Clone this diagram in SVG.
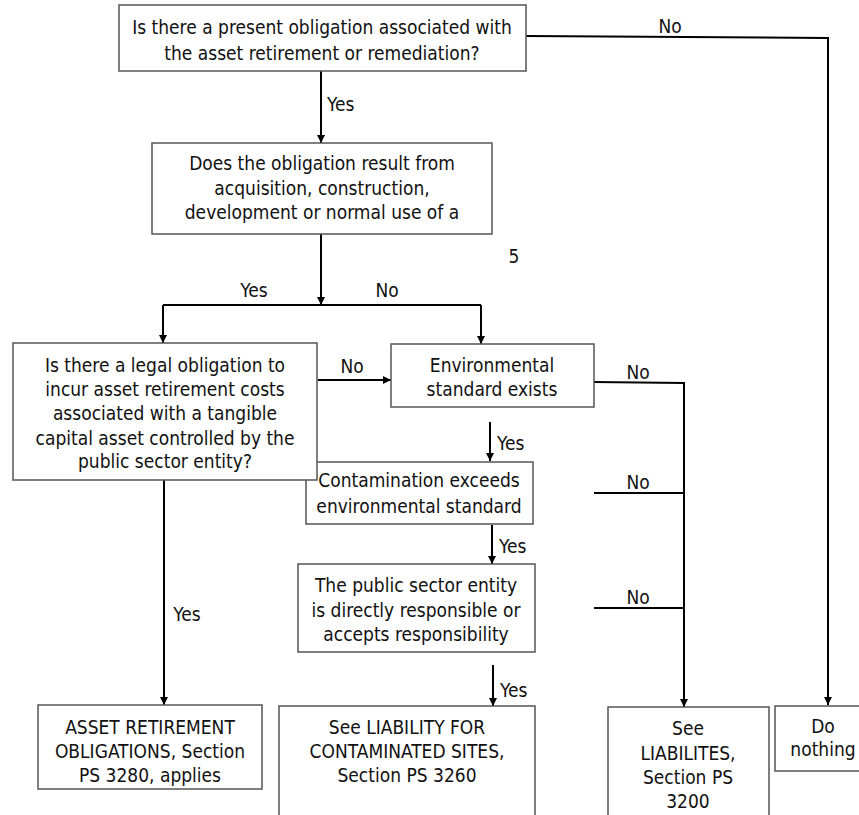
<svg xmlns="http://www.w3.org/2000/svg" width="859" height="815" viewBox="0 0 859 815">
<defs>
<marker id="ah" markerWidth="8" markerHeight="8" refX="8" refY="4" orient="auto" markerUnits="userSpaceOnUse">
<path d="M0,0 L8,4 L0,8 Z" fill="#000"/>
</marker>
<style>
.box{fill:#fff;stroke:#555;stroke-width:1.5}
.t{font-family:"DejaVu Sans Condensed","DejaVu Sans",sans-serif;font-size:19px;fill:#111;text-anchor:middle}
.l{font-family:"DejaVu Sans Condensed","DejaVu Sans",sans-serif;font-size:19px;fill:#111}
.c{fill:none;stroke:#000;stroke-width:2}
.a{fill:none;stroke:#000;stroke-width:2;marker-end:url(#ah)}
</style>
</defs>
<rect width="859" height="815" fill="#fff"/>
<g id="connectors">
<path class="a" d="M321,71 V143"/>
<path class="a" d="M321,234 V305"/>
<path class="c" d="M163,305 H481"/>
<path class="a" d="M163,305 V343"/>
<path class="a" d="M481,305 V344"/>
<path class="a" d="M318,380 H391"/>
<path class="a" d="M594,382 L684,383 V707"/>
<path class="a" d="M490,422 V461"/>
<path class="a" d="M492,525 V564"/>
<path class="c" d="M594,493 H684"/>
<path class="c" d="M594,608 H684"/>
<path class="a" d="M164,480 V705"/>
<path class="a" d="M493,665 V706"/>
<path class="a" d="M526,36 L828,38 V705"/>
<text class="l" x="327" y="111">Yes</text>
<text class="t" x="254" y="297">Yes</text>
<text class="t" x="387" y="297">No</text>
<text class="t" x="514" y="263">5</text>
<text class="t" x="352" y="373">No</text>
<text class="t" x="638" y="379">No</text>
<text class="l" x="497" y="450">Yes</text>
<text class="t" x="638" y="489">No</text>
<text class="l" x="499" y="553">Yes</text>
<text class="t" x="638" y="604">No</text>
<text class="t" x="187" y="621">Yes</text>
<text class="l" x="500" y="697">Yes</text>
<text class="t" x="670" y="33">No</text>
</g>
<g id="n1">
<rect class="box" x="119" y="5" width="407" height="66"/>
<text class="t" x="322" y="34">Is there a present obligation associated with</text>
<text class="t" x="322" y="60">the asset retirement or remediation?</text>
</g>
<g id="n2">
<rect class="box" x="152" y="143" width="340" height="91"/>
<text class="t" x="322" y="170">Does the obligation result from</text>
<text class="t" x="322" y="195">acquisition, construction,</text>
<text class="t" x="322" y="219">development or normal use of a</text>
</g>
<g id="n4">
<rect class="box" x="391" y="344" width="203" height="63"/>
<text class="t" x="492" y="372">Environmental</text>
<text class="t" x="492" y="396">standard exists</text>
</g>
<g id="n5">
<rect class="box" x="306" y="462" width="227" height="62"/>
<text class="t" x="419" y="487">Contamination exceeds</text>
<text class="t" x="419" y="513">environmental standard</text>
</g>
<g id="n3">
<rect class="box" x="13" y="343" width="304" height="137"/>
<text class="t" x="165" y="372">Is there a legal obligation to</text>
<text class="t" x="165" y="396">incur asset retirement costs</text>
<text class="t" x="165" y="420">associated with a tangible</text>
<text class="t" x="165" y="445">capital asset controlled by the</text>
<text class="t" x="165" y="468">public sector entity?</text>
</g>
<g id="n6">
<rect class="box" x="298" y="564" width="237" height="88"/>
<text class="t" x="416" y="592">The public sector entity</text>
<text class="t" x="416" y="617">is directly responsible or</text>
<text class="t" x="416" y="641">accepts responsibility</text>
</g>
<g id="n7">
<rect class="box" x="38" y="705" width="224" height="84"/>
<text class="t" x="150" y="734">ASSET RETIREMENT</text>
<text class="t" x="150" y="758">OBLIGATIONS, Section</text>
<text class="t" x="150" y="782">PS 3280, applies</text>
</g>
<g id="n8">
<rect class="box" x="279" y="706" width="256" height="120"/>
<text class="t" x="407" y="734">See LIABILITY FOR</text>
<text class="t" x="407" y="758">CONTAMINATED SITES,</text>
<text class="t" x="407" y="782">Section PS 3260</text>
</g>
<g id="n9">
<rect class="box" x="608" y="707" width="161" height="120"/>
<text class="t" x="688" y="735">See</text>
<text class="t" x="688" y="760">LIABILITES,</text>
<text class="t" x="688" y="784">Section PS</text>
<text class="t" x="688" y="808">3200</text>
</g>
<g id="n10">
<rect class="box" x="775" y="706" width="100" height="65"/>
<text class="t" x="823" y="733">Do</text>
<text class="t" x="823" y="756">nothing</text>
</g>
</svg>
